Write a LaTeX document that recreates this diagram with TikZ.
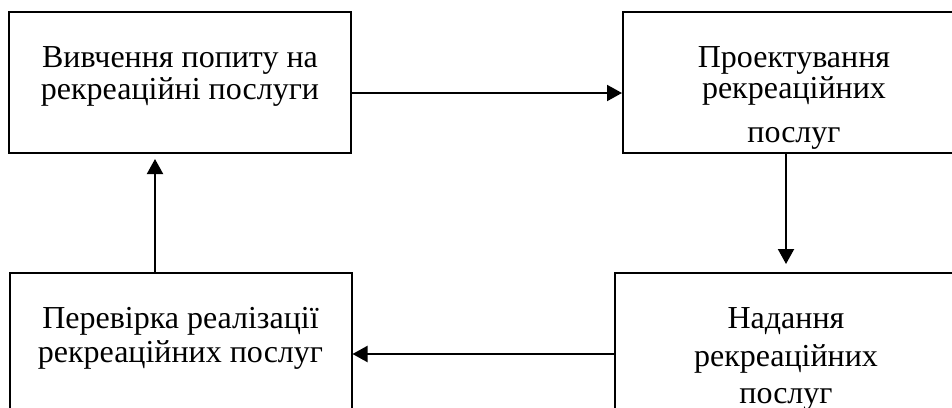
\documentclass[tikz,border=0pt]{standalone}
\usepackage{fontspec}
\setmainfont{Liberation Serif}
\usetikzlibrary{arrows.meta,positioning}

\tikzset{
	stage/.style={draw,line width=1pt,minimum width=171pt,minimum height=70.5pt,inner sep=0pt},
	stagetext/.style={inner sep=0pt,align=center,font=\fontsize{16}{18.5}\selectfont},
	flow/.style={line width=1pt,-{Triangle[length=7.5pt,width=8pt]}}
}

\begin{document}
\begin{tikzpicture}[x=0.5pt,y=-0.5pt]
	\useasboundingbox (0,0) rectangle (952,407);
	\clip (0,0) rectangle (952,407);
	% stages of the cycle
	\node[stage] (study) at (180,82.5) {};
	\node[stage] (design) at (794,82.5) {};
	\node[stage] (provide) at (786,343.5) {};
	\node[stage] (check) at (180.5,343.5) {};
	\node[stagetext,below=17.5pt of study.north] {Вивчення попиту на\\[-2.5pt]рекреаційні послуги};
	\node[stagetext,below=17.5pt of design.north] {Проектування\\[-3pt]рекреаційних\\[3.5pt]послуг};
	\node[stagetext,below=17.5pt of provide.north] {Надання\\[0.5pt]рекреаційних\\послуг};
	\node[stagetext,below=17.5pt of check.north] {Перевірка реалізації\\[-1.5pt]рекреаційних послуг};
	% arrows
	\draw[flow] ([yshift=-5.25pt]study.east) -- ([yshift=-5.25pt]design.west);
	\draw[flow,shorten >=4pt] (provide.north |- design.south) -- (provide.north);
	\draw[flow] ([yshift=-5.25pt]provide.west) -- ([yshift=-5.25pt]check.east);
	\draw[flow,shorten >=2.5pt] ([xshift=-12.75pt]check.north) -- ([xshift=-12.75pt]check.north |- study.south);
\end{tikzpicture}
\end{document}
